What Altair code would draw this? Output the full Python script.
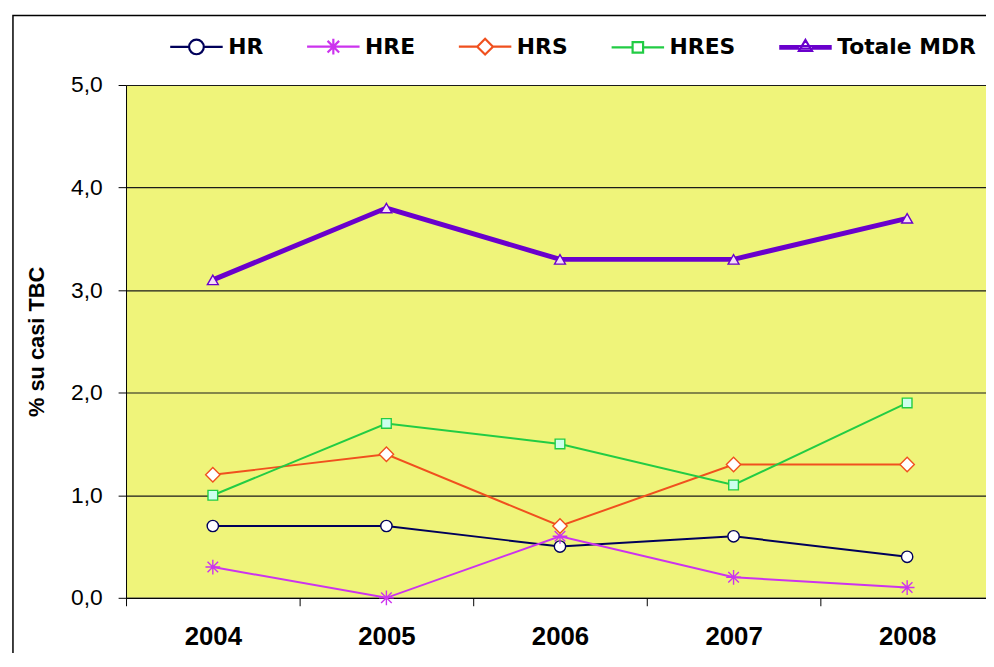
import altair as alt
import pandas as pd

# ---- data ----
years = ["2004", "2005", "2006", "2007", "2008"]
series_names = ["HR", "HRE", "HRS", "HRES", "Totale MDR"]
hr = [0.7, 0.7, 0.5, 0.6, 0.4]
hre = [0.3, 0.0, 0.6, 0.2, 0.1]
hrs = [1.2, 1.4, 0.7, 1.3, 1.3]
hres = [1.0, 1.7, 1.5, 1.1, 1.9]
totale = [3.1, 3.8, 3.3, 3.3, 3.7]
y_ticks = [0, 1, 2, 3, 4, 5]

# ---- styles ----
colors = ["#00005A", "#CC33EE", "#F0501E", "#22CC44", "#6A00CC"]
line_widths = [2, 2, 2, 2, 5]
marker_shapes = ["circle",
                 "M-1,0L1,0M0,-1L0,1M-0.72,-0.72L0.72,0.72M-0.72,0.72L0.72,-0.72",
                 "diamond", "square", "triangle-up"]
marker_sizes = [130, 220, 210, 95, 121]
marker_fills = ["white", "white", "white", "#CCFFEE", "#F6DDF6"]
legend_paths = [
    "M-1,0L-0.28,0M0.28,0L1,0M0.28,0A0.28,0.28 0 1,1 -0.28,0A0.28,0.28 0 1,1 0.28,0Z",
    "M-1,0L1,0M0,-0.3L0,0.3M-0.22,-0.22L0.22,0.22M-0.22,0.22L0.22,-0.22",
    "M-1,0L-0.3,0M0.3,0L1,0M0,-0.3L0.3,0L0,0.3L-0.3,0Z",
    "M-1,0L-0.2,0M0.2,0L1,0M-0.2,-0.2L0.2,-0.2L0.2,0.2L-0.2,0.2Z",
    "M-1,-0.05L1,-0.05M-1,0.05L1,0.05M-1,0L-0.25,0M0.25,0L1,0M0,-0.28L0.25,0.14L-0.25,0.14Z",
]
FONT = "Liberation Sans"

values = {"HR": hr, "HRE": hre, "HRS": hrs, "HRES": hres, "Totale MDR": totale}
rows = []
for s in series_names:
    for yr, v in zip(years, values[s]):
        rows.append({"year": yr, "series": s, "value": v})
df = pd.DataFrame(rows)

x_enc = alt.X("year:O",
              scale=alt.Scale(type="band", paddingInner=0, paddingOuter=0),
              bandPosition=0.5,
              axis=alt.Axis(title=None, labelAngle=0, tickBand="extent",
                            domainColor="black", tickColor="black", tickSize=8,
                            labelFont=FONT, labelFontSize=26, labelFontWeight="bold",
                            labelColor="black", labelPadding=18, grid=False))
y_enc = alt.Y("value:Q",
              scale=alt.Scale(domain=[0, 5], nice=False),
              axis=alt.Axis(title="% su casi TBC", values=y_ticks,
                            labelExpr="replace(format(datum.value, '.1f'), '.', ',')",
                            domainColor="black", tickColor="black", tickSize=8,
                            labelFont=FONT, labelFontSize=23, labelColor="black",
                            labelPadding=16, grid=True, gridColor="#1a1a1a",
                            gridWidth=1.2, titleFont=FONT, titleFontSize=22,
                            titleFontWeight="bold", titleColor="black",
                            titlePadding=22))

base = alt.Chart(df).encode(x=x_enc, y=y_enc)

line_layers = []
marker_layers = []
for s, col, lw, shp, sz, fl in zip(series_names, colors, line_widths,
                                    marker_shapes, marker_sizes, marker_fills):
    sub = base.transform_filter(alt.datum.series == s)
    line_layers.append(sub.mark_line(color=col, strokeWidth=lw))
    marker_layers.append(
        sub.mark_point(shape=shp, size=sz, filled=True, fill=fl, stroke=col,
                       strokeWidth=1.4, opacity=1)
    )

leg = alt.Legend(orient="none", legendX=43, legendY=-67, direction="horizontal",
                 title=None, labelFont="DejaVu Sans", labelFontSize=22,
                 labelFontWeight="bold", labelColor="black", symbolSize=2800,
                 symbolStrokeWidth=2.2, columnPadding=39, labelOffset=4, padding=0)

legend_layer = base.transform_filter("datum.value < 0").mark_point(
    filled=True, fill="white", strokeWidth=2.2, opacity=1
).encode(
    shape=alt.Shape("series:N", scale=alt.Scale(domain=series_names, range=legend_paths),
                    legend=leg),
    stroke=alt.Stroke("series:N", scale=alt.Scale(domain=series_names, range=colors),
                      legend=leg),
)

frame = alt.Chart(pd.DataFrame({"f": [0]})).mark_rect(
    fillOpacity=0, stroke="black", strokeWidth=1.5
).encode(x=alt.value(-114), x2=alt.value(990), y=alt.value(-70), y2=alt.value(640))

chart = alt.layer(frame, *line_layers, *marker_layers, legend_layer).properties(
    width=875, height=517, background="white",
    autosize=alt.AutoSizeParams(type="none"),
    padding={"left": 119, "top": 75, "right": -8, "bottom": 53},
).configure_view(fill="#EFF47A", strokeWidth=0)

chart.save("out.html", embed_options={"renderer": "svg", "actions": False})
